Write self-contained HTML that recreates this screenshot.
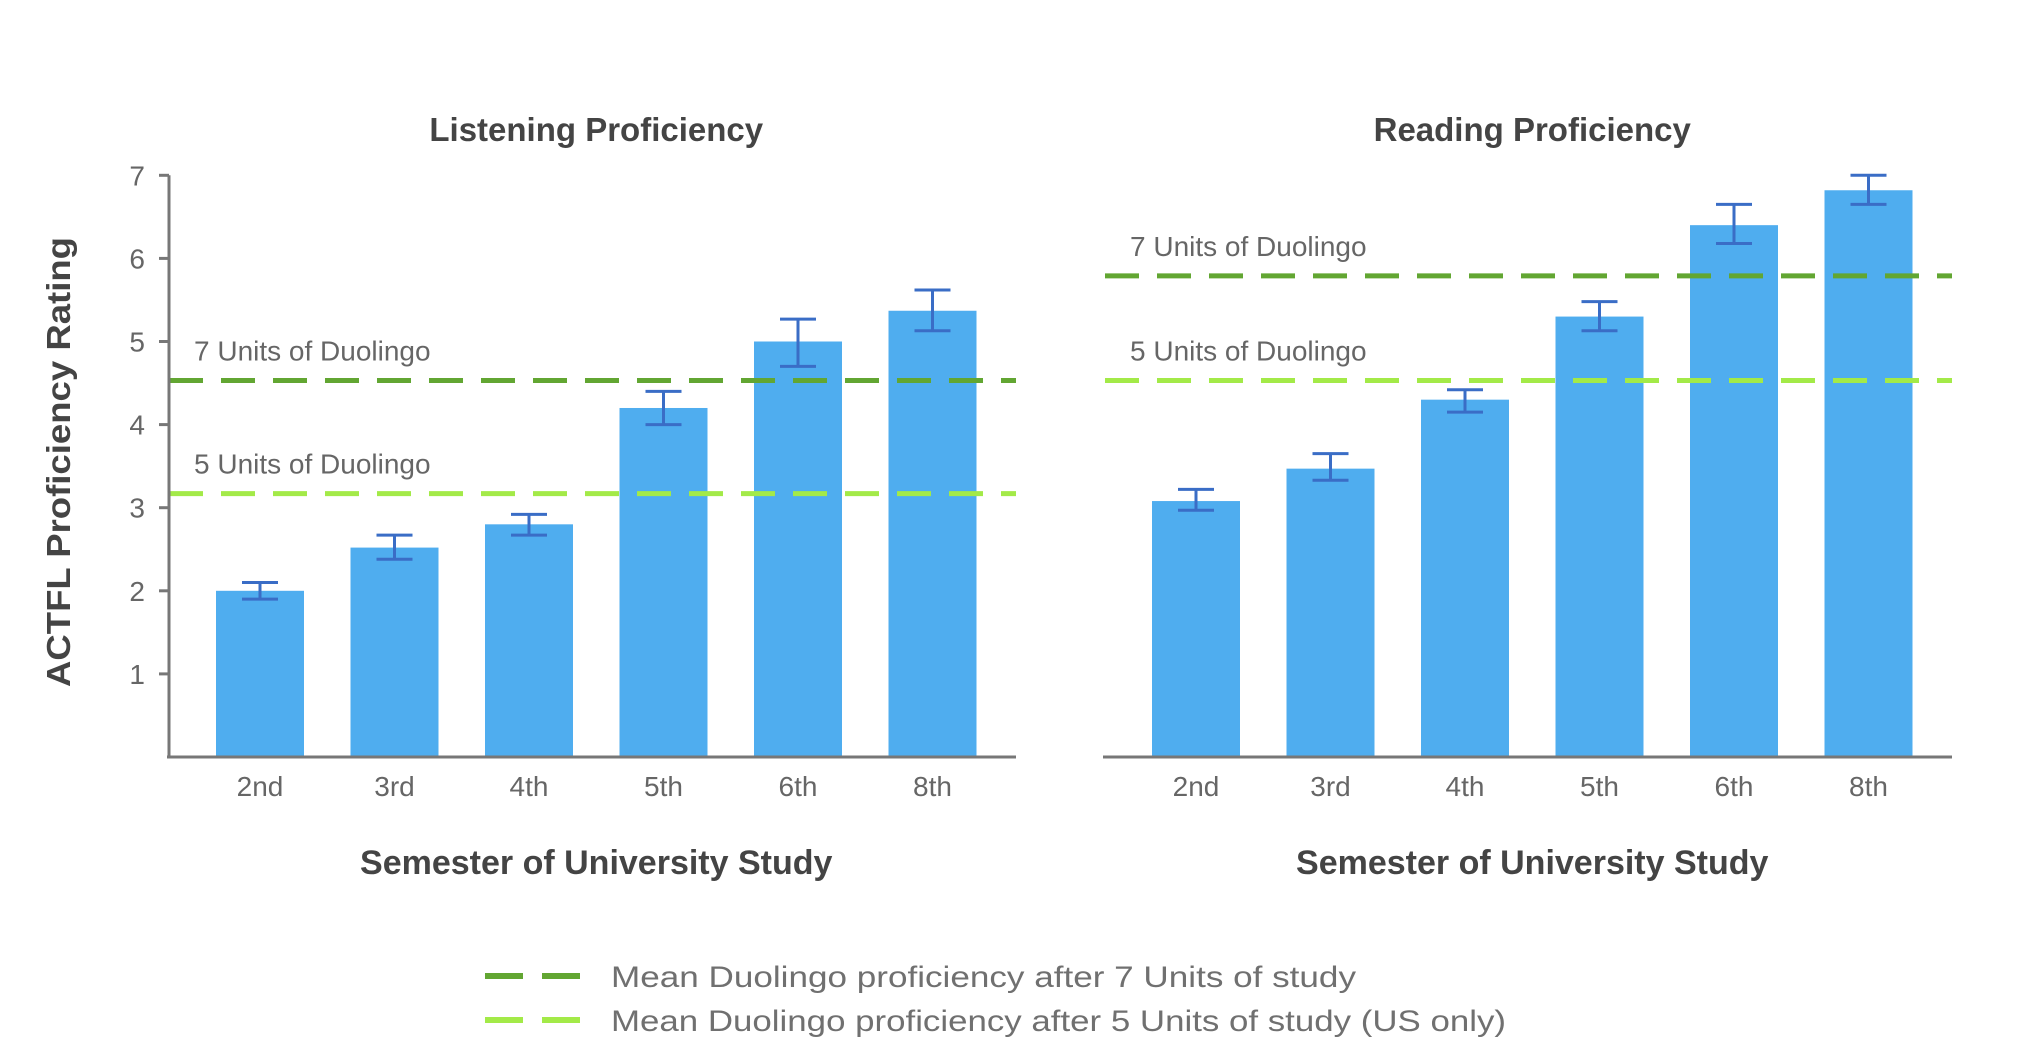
<!DOCTYPE html>
<html>
<head>
<meta charset="utf-8">
<style>
html,body{margin:0;padding:0;background:#fff;}
svg{display:block;font-family:"Liberation Sans",sans-serif;}
</style>
</head>
<body>
<svg id="chart" width="2042" height="1060" viewBox="0 0 2042 1060" xmlns="http://www.w3.org/2000/svg">
  <text x="0" y="0" transform="translate(70,462) rotate(-90)" text-anchor="middle" font-size="33" font-weight="bold" fill="#444" textLength="450" lengthAdjust="spacingAndGlyphs">ACTFL Proficiency Rating</text>

  <g>
    <line x1="485" y1="976" x2="580" y2="976" stroke="#62A632" stroke-width="6" stroke-dasharray="38,19"/>
    <text x="611" y="987" font-size="30" fill="#707070" textLength="745" lengthAdjust="spacingAndGlyphs">Mean Duolingo proficiency after 7 Units of study</text>
    <line x1="485" y1="1020" x2="580" y2="1020" stroke="#A3EA48" stroke-width="6" stroke-dasharray="38,19"/>
    <text x="611" y="1031" font-size="30" fill="#707070" textLength="895" lengthAdjust="spacingAndGlyphs">Mean Duolingo proficiency after 5 Units of study (US only)</text>
  </g>
</svg>
<script>
const categories = ["2nd","3rd","4th","5th","6th","8th"];
const listeningValues = [2.0, 2.52, 2.8, 4.2, 5.0, 5.37];
const listeningLow = [1.9, 2.38, 2.67, 4.0, 4.7, 5.13];
const listeningHigh = [2.1, 2.67, 2.92, 4.4, 5.27, 5.62];
const listeningRefs = [4.53, 3.17];
const readingValues = [3.08, 3.47, 4.3, 5.3, 6.4, 6.82];
const readingLow = [2.97, 3.33, 4.15, 5.13, 6.18, 6.65];
const readingHigh = [3.22, 3.65, 4.42, 5.48, 6.65, 7.0];
const readingRefs = [5.79, 4.53];
const yTicks = [1,2,3,4,5,6,7];
const refLabels = ["7 Units of Duolingo","5 Units of Duolingo"];

const NS = "http://www.w3.org/2000/svg";
const svg = document.getElementById('chart');
function mk(tag, attrs, parent){
  const e = document.createElementNS(NS, tag);
  for (const k in attrs) e.setAttribute(k, attrs[k]);
  (parent||svg).appendChild(e);
  return e;
}
const baseY = 757, unit = 83.1;
function yScale(v){ return baseY - v*unit; }
function xScale(x0, i){ return x0 + 91 + i*134.5; }

function panel(x0, x1, title, vals, lo, hi, refs, showAxis, key){
  const g = mk('g', {});
  
  
  const mid = (xScale(x0,0) + xScale(x0,categories.length-1))/2;
  const t = mk('text', {x: mid, y: 141, 'text-anchor':'middle', 'font-size':33, 'font-weight':'bold', fill:'#444'}, g);
  t.textContent = title;
  
  
  const xt = mk('text', {x: mid, y: 874, 'text-anchor':'middle', 'font-size':34, 'font-weight':'bold', fill:'#444'}, g);
  xt.textContent = "Semester of University Study";
  
  
  const bw = 88;
  categories.forEach((c, i) => {
    const center = xScale(x0, i);
    const bar = mk('rect', {x: center - bw/2, y: yScale(vals[i]), width: bw, height: baseY - yScale(vals[i]), fill:'#4FADEF'}, g);
    
    
    const eb = mk('path', {d: `M${center-18},${yScale(hi[i])}H${center+18}M${center},${yScale(hi[i])}V${yScale(lo[i])}M${center-18},${yScale(lo[i])}H${center+18}`, stroke:'#3A6DC6', 'stroke-width':3, fill:'none'}, g);
    
    
    const lbl = mk('text', {x: center, y: 796, 'text-anchor':'middle', 'font-size':28, fill:'#666'}, g);
    lbl.textContent = c;
    
    
  });
  const colors = ['#62A632', '#A3EA48'];
  refs.forEach((r, i) => {
    const ln = mk('line', {x1: x0, x2: x1, y1: yScale(r), y2: yScale(r), stroke: colors[i], 'stroke-width':5, 'stroke-dasharray':'34,18'}, g);
    
    
    const tl = mk('text', {x: x0 + 25, y: yScale(r) - 20, 'font-size':28, fill:'#666'}, g);
    tl.textContent = refLabels[i];
    
    
  });
  const bl = mk('line', {x1: x0 - 2, x2: x1, y1: baseY, y2: baseY, stroke:'#777', 'stroke-width':3}, g);
  
  
  if (showAxis) {
    const ax = mk('line', {x1: x0, x2: x0, y1: yScale(7), y2: baseY, stroke:'#777', 'stroke-width':3}, g);
    
    
    yTicks.forEach(v => {
      const tk = mk('line', {x1: x0 - 10, x2: x0, y1: yScale(v), y2: yScale(v), stroke:'#777', 'stroke-width':3}, g);
      
      
      const tt = mk('text', {x: x0 - 24, y: yScale(v) + 10, 'text-anchor':'end', 'font-size':28, fill:'#666'}, g);
      tt.textContent = v;
      
      
    });
  }
}
panel(169, 1016, "Listening Proficiency", listeningValues, listeningLow, listeningHigh, listeningRefs, true, 'listening');
panel(1105, 1952, "Reading Proficiency", readingValues, readingLow, readingHigh, readingRefs, false, 'reading');
</script>
</body>
</html>
